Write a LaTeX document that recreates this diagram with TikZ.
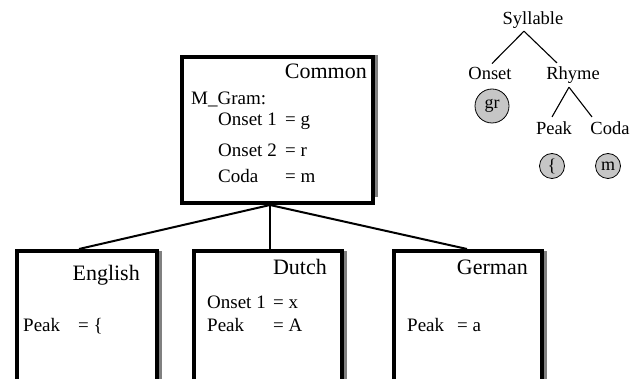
\documentclass[tikz,border=0pt]{standalone}
\usepackage{fontspec}
\setmainfont{Liberation Serif}
\usetikzlibrary{positioning}
\definecolor{shadowgray}{RGB}{128,128,128}
\definecolor{segfill}{RGB}{198,198,198}
\tikzset{
    langbox/.style={draw, line width=4pt, inner sep=0pt, anchor=north west},
    boxshadow/.style={fill=shadowgray, draw=none},
    title/.style={anchor=base east, inner sep=0pt, font=\fontsize{22}{26}\selectfont},
    entry/.style={anchor=base west, inner sep=0pt, font=\fontsize{19}{22}\selectfont},
    treelabel/.style={anchor=base, inner sep=0pt, font=\fontsize{18.5}{22}\selectfont},
    seg/.style={draw, circle, fill=segfill, line width=0.8pt, inner sep=0pt, font=\fontsize{18}{22}\selectfont},
    link/.style={line width=2pt},
    treeline/.style={line width=1.1pt}
}
\begin{document}
\begin{tikzpicture}[x=1pt, y=-1pt]
    \useasboundingbox (0,0) rectangle (632,379);
    % shadows on the right
    \fill[boxshadow] (373,55) rectangle (378,197);
    \fill[boxshadow] (157,251) rectangle (162,400);
    \fill[boxshadow] (342,251) rectangle (347,400);
    \fill[boxshadow] (542,251) rectangle (547,400);

    \node[langbox, minimum width=191pt, minimum height=146pt] (common) at (180,55) {};
    \node[langbox, minimum width=140pt, minimum height=170pt] (english) at (15,249) {};
    \node[langbox, minimum width=148pt, minimum height=170pt] (dutch) at (192,249) {};
    \node[langbox, minimum width=148pt, minimum height=170pt] (german) at (392,249) {};

    \coordinate (hub) at ([xshift=-7.5pt]common.south);
    \draw[link] (hub) -- ([xshift=-8pt]english.north);
    \draw[link] (hub) -- (hub |- dutch.north);
    \draw[link] (hub) -- ([xshift=-1pt]german.north);

    % common grammar
    \node[title] (commonname) at (367,79) {Common};
    \node[entry] (mgram) at (191,105) {M\_Gram:};
    \node[entry] (comonsetone) at (218,126) {Onset 1};
    \node[entry] (comonsetoneval) at (285,126) {= g};
    \node[entry] (comonsettwo) at (218,157) {Onset 2};
    \node[entry] (comonsettwoval) at (285,157) {= r};
    \node[entry] (comcoda) at (218,183) {Coda};
    \node[entry] (comcodaval) at (285,183) {= m};

    % languages
    \node[title] (engname) at (140,281) {English};
    \node[entry] (engpeak) at (23,331) {Peak};
    \node[entry] (engpeakval) at (78,331) {= \{};

    \node[title] (dutname) at (327,275) {Dutch};
    \node[entry] (dutonset) at (207,309) {Onset 1};
    \node[entry] (dutonsetval) at (273,309) {= x};
    \node[entry] (dutpeak) at (207,331) {Peak};
    \node[entry] (dutpeakval) at (273,331) {= A};

    \node[title] (gername) at (528,275) {German};
    \node[entry] (gerpeak) at (407,331) {Peak};
    \node[entry] (gerpeakval) at (457,331) {= a};

    % syllable tree
    \node[treelabel] (syllable) at (533,25) {Syllable};
    \node[treelabel] (onset) at (490,80) {Onset};
    \node[treelabel] (rhyme) at (573,80) {Rhyme};
    \node[treelabel] (peak) at (554,135) {Peak};
    \node[treelabel] (coda) at (610,135) {Coda};
    \draw[treeline] ([xshift=-9pt,yshift=-2pt]syllable.south) -- ([xshift=2pt,yshift=4pt]onset.north);
    \draw[treeline] ([xshift=-9pt,yshift=-2pt]syllable.south) -- ([xshift=-16pt,yshift=4pt]rhyme.north);
    \draw[treeline] ([xshift=-4pt,yshift=-3pt]rhyme.south) -- ([xshift=-2pt,yshift=5pt]peak.north);
    \draw[treeline] ([xshift=-4pt,yshift=-3pt]rhyme.south) -- ([xshift=-18pt,yshift=5pt]coda.north);

    \node[seg, minimum size=34pt] (gr) at (492,106) {gr};
    \node[seg, minimum size=25pt] (peakseg) at (552,166) {\{};
    \node[seg, minimum size=25pt] (codaseg) at (608,166) {m};
\end{tikzpicture}
\end{document}
